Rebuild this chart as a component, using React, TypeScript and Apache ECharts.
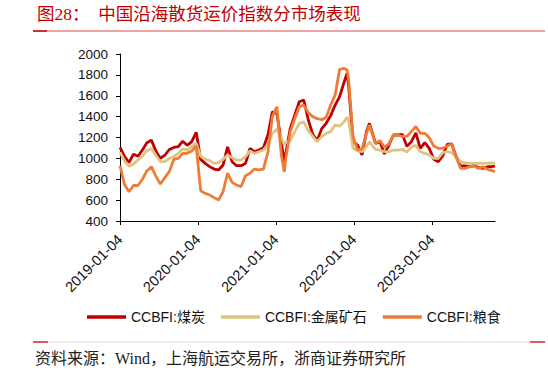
import React, { useEffect, useRef } from "react";
import * as echarts from "echarts";

// Week index since the first date (2019-01-04), weekly CCBFI data sampled
const START_DATE = "2019-01-04";
const WEEKS = [
  0, 3, 6, 9, 12, 15, 18, 21, 24, 27, 30, 33, 36, 39, 42, 45, 48, 51, 54, 57,
  60, 63, 66, 69, 72, 75, 78, 81, 84, 87, 90, 93, 96, 99, 102, 105, 108, 110, 111, 114,
  117, 120, 123, 126, 129, 132, 135, 138, 141, 144, 147, 150, 152, 153, 156, 159, 162, 165, 167, 168,
  171, 174, 177, 180, 183, 186, 189, 192, 195, 198, 201, 204, 207, 210, 213, 216, 219, 222, 225, 228,
  231, 234, 237, 240, 243, 246, 249, 251,
];
const COAL = [
  1105, 1020, 960, 1040, 1020, 1080, 1150, 1175, 1070, 1000, 1030, 1085, 1105, 1112, 1165, 1125, 1160, 1250, 990, 952,
  921, 898, 889, 937, 1110, 968, 930, 930, 952, 1096, 1064, 1080, 1102, 1224, 1447, 1431, 1150, 960, 1050, 1290,
  1415, 1543, 1559, 1370, 1230, 1170, 1285, 1336, 1410, 1511, 1591, 1730, 1815, 1700, 1160, 1128, 1032, 1260, 1336, 1288,
  1144, 1160, 1042, 1128, 1224, 1224, 1230, 1115, 1160, 1245, 1096, 1150, 1096, 991, 968, 1023, 1134, 1140, 1016, 927,
  927, 920, 933, 911, 904, 920, 920, 927,
];
const METAL = [
  1060, 975, 925, 945, 985, 1023, 1075, 1095, 1030, 968, 968, 1000, 1016, 1048, 1090, 1080, 1110, 1145, 1020, 994,
  978, 952, 959, 991, 1032, 1007, 984, 984, 1016, 1071, 1048, 1064, 1080, 1128, 1240, 1280, 1200, 1130, 1150, 1170,
  1256, 1336, 1350, 1265, 1210, 1160, 1208, 1240, 1256, 1320, 1310, 1350, 1395, 1360, 1096, 1074, 1064, 1112, 1160, 1138,
  1086, 1080, 1064, 1064, 1080, 1080, 1085, 1060, 1106, 1125, 1064, 1048, 1032, 1000, 1000, 1055, 1064, 1055, 1016, 968,
  958, 952, 952, 952, 952, 955, 958, 952,
];
const GRAIN = [
  930, 750, 680, 740, 740, 800, 880, 920, 830, 755, 815, 873, 990, 1000, 1048, 1048, 1070, 1120, 690, 665,
  649, 624, 601, 681, 860, 770, 745, 729, 834, 857, 898, 889, 898, 1060, 1400, 1495, 1032, 870, 1000, 1255,
  1383, 1495, 1510, 1440, 1400, 1380, 1370, 1393, 1511, 1607, 1853, 1862, 1846, 1760, 1208, 1080, 1090, 1240, 1320, 1272,
  1144, 1170, 1106, 1138, 1224, 1224, 1210, 1210, 1256, 1305, 1240, 1240, 1198, 1118, 1096, 1096, 1118, 1138, 1016, 904,
  904, 920, 927, 904, 920, 895, 882, 873,
];
const X_TICK_LABELS = ["2019-01-04", "2020-01-04", "2021-01-04", "2022-01-04", "2023-01-04"];
const SERIES_NAMES = ["CCBFI:煤炭", "CCBFI:金属矿石", "CCBFI:粮食"];
const COLORS = ["#C00000", "#DEC47E", "#EE7B38"];
const Y_MIN = 400;
const Y_MAX = 2000;
const Y_STEP = 200;
const TITLE = "图28：  中国沿海散货运价指数分市场表现";
const SOURCE = "资料来源：Wind，上海航运交易所，浙商证券研究所";

const WEEK_MS = 7 * 86400000;
const toWeek = (d: string) => (Date.parse(d) - Date.parse(START_DATE)) / WEEK_MS;

export default function App() {
  const ref = useRef<HTMLDivElement>(null);
  useEffect(() => {
    if (!ref.current) return;
    const chart = echarts.init(ref.current, undefined, { renderer: "svg" });
    const tickWeeks = X_TICK_LABELS.map(toWeek);
    const sans = '"Liberation Sans", Arial, "Noto Sans CJK SC", sans-serif';
    const serif = '"Liberation Serif", "Noto Sans CJK SC", serif';
    const seriesData = [COAL, METAL, GRAIN];
    chart.setOption({
      animation: false,
      backgroundColor: "#ffffff",
      grid: { left: 120, top: 54, width: 375, height: 167, containLabel: false, outerBoundsMode: "none" },
      xAxis: {
        type: "value",
        min: 0,
        max: WEEKS[WEEKS.length - 1],
        splitLine: { show: false },
        axisLine: { show: true, lineStyle: { color: "#000", width: 1 } },
        axisTick: { show: true, length: 4, inside: false, customValues: tickWeeks, lineStyle: { color: "#000" } },
        axisLabel: {
          customValues: tickWeeks,
          rotate: 45,
          margin: 16,
          fontSize: 14.5,
          color: "#111",
          fontFamily: sans,
          formatter: (v: number) => {
            const i = tickWeeks.findIndex((t) => Math.abs(t - v) < 0.01);
            return i >= 0 ? X_TICK_LABELS[i] : "";
          },
        },
      },
      yAxis: {
        type: "value",
        min: Y_MIN,
        max: Y_MAX,
        interval: Y_STEP,
        splitLine: { show: false },
        axisLine: { show: true, lineStyle: { color: "#000", width: 1 } },
        axisTick: { show: true, length: 4, lineStyle: { color: "#000" } },
        axisLabel: {
          margin: 12,
          fontSize: 13.5,
          color: "#111",
          fontFamily: sans,
          formatter: (v: number) => String(v),
        },
      },
      legend: {
        left: 87,
        top: 310,
        padding: 0,
        icon: "rect",
        itemWidth: 39,
        itemHeight: 3.5,
        itemGap: 16,
        textStyle: { fontSize: 14, color: "#111", fontFamily: sans },
        data: SERIES_NAMES,
      },
      series: SERIES_NAMES.map((name, s) => ({
        name,
        type: "line",
        symbol: "none",
        showSymbol: false,
        data: WEEKS.map((w, i) => [w, seriesData[s][i]]),
        lineStyle: { color: COLORS[s], width: 2.8 },
        itemStyle: { color: COLORS[s] },
        z: 2 + s,
      })),
      graphic: [
        {
          type: "text",
          left: 37,
          top: 5,
          style: { text: TITLE, fill: "#C00000", fontSize: 17.5, fontFamily: serif },
        },
        { type: "line", shape: { x1: 33, y1: 31, x2: 545, y2: 31 }, style: { stroke: "#D94848", lineWidth: 1.2 } },
        { type: "line", shape: { x1: 33, y1: 31, x2: 47, y2: 31 }, style: { stroke: "#C00000", lineWidth: 1.4 } },
        { type: "line", shape: { x1: 33, y1: 342, x2: 545, y2: 342 }, style: { stroke: "#F3D6D6", lineWidth: 1 } },
        { type: "line", shape: { x1: 33, y1: 342, x2: 48, y2: 342 }, style: { stroke: "#C00000", lineWidth: 1.2 } },
        { type: "line", shape: { x1: 530, y1: 342, x2: 545, y2: 342 }, style: { stroke: "#C00000", lineWidth: 1.2 } },
        {
          type: "text",
          left: 35,
          top: 350,
          style: { text: SOURCE, fill: "#222", fontSize: 16, fontFamily: serif },
        },
      ],
    });
    return () => chart.dispose();
  }, []);
  return (
    <div
      ref={ref}
      style={{ position: "fixed", left: 0, top: 0, width: 548, height: 374, background: "#fff" }}
    />
  );
}
